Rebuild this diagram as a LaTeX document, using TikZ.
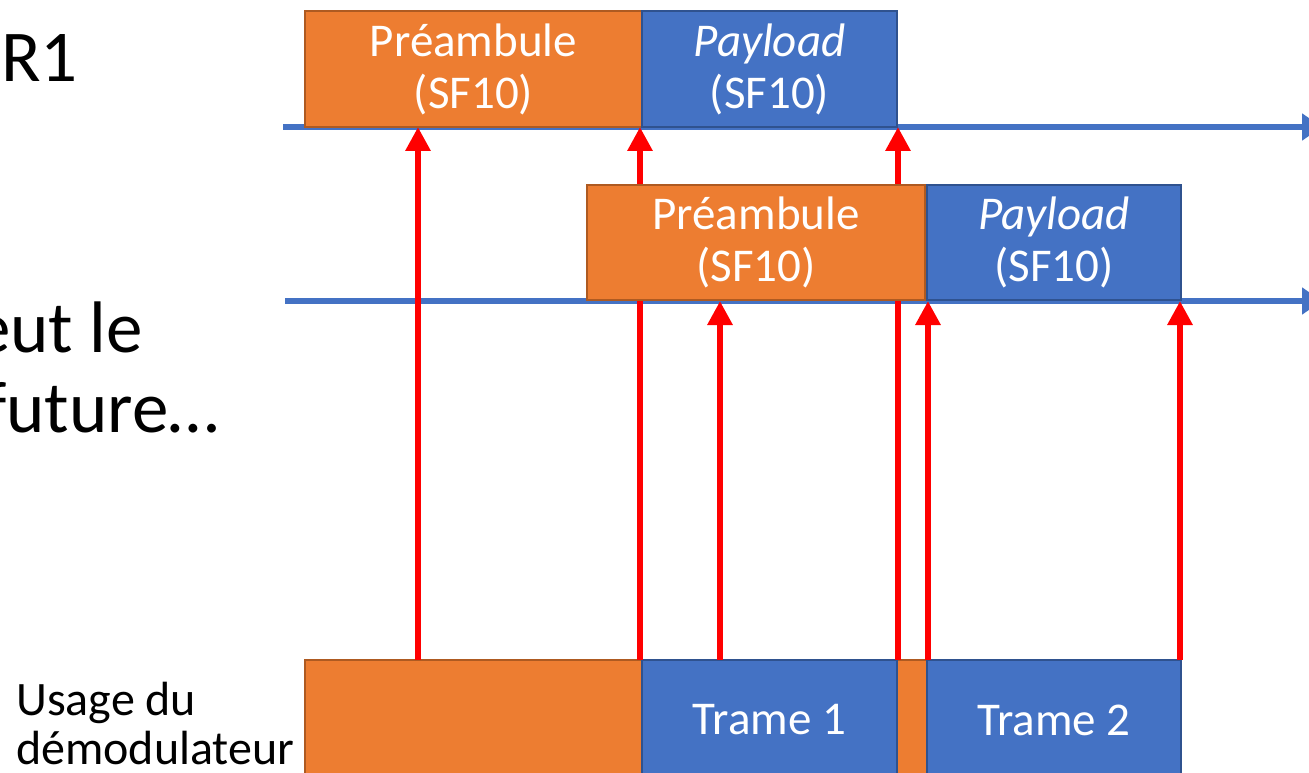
\documentclass[tikz,border=0pt]{standalone}
\usepackage{fontspec}
\setmainfont{Carlito}
\usetikzlibrary{arrows.meta}

\definecolor{lorablue}{HTML}{4472C4}
\definecolor{lorabluedark}{HTML}{2F528F}
\definecolor{loraorange}{HTML}{ED7D31}
\definecolor{loraorangedark}{HTML}{AE5A21}
\definecolor{sigred}{HTML}{FF0000}

\tikzset{
  x=1pt, y=-1pt,
  boxtext/.style={font=\fontsize{47}{52}\selectfont, text=white, align=center, inner sep=0pt},
  prebox/.style={boxtext, draw=loraorangedark, fill=loraorange, line width=2pt, minimum height=#1},
  paybox/.style={boxtext, draw=lorabluedark, fill=lorablue, line width=2pt, minimum height=#1},
  timeaxis/.style={draw=lorablue, line width=5.5pt, -{Triangle[length=20pt,width=26pt]}},
  demod/.style={red, draw=sigred, line width=6pt, -{Triangle[length=24pt,width=24pt]}},
  bigtext/.style={font=\fontsize{73}{80}\selectfont, inner sep=0pt},
  sidetext/.style={font=\fontsize{48}{50}\selectfont, inner sep=0pt, anchor=base west},
}

\begin{document}
\begin{tikzpicture}
\useasboundingbox (0,0) rectangle (1309,773);

% slide text running in from the left
\node[bigtext, anchor=base east] (t1) at (78,82) {R1};
\node[bigtext, anchor=base east] (t2) at (143,352) {eut le};
\node[bigtext, anchor=base west] (t3) at (-16,432) {future…};

% time axes of the two transmissions
\coordinate (ax1s) at (283,127);
\coordinate (ax1e) at (1322,127);
\coordinate (ax2s) at (285,301);
\coordinate (ax2e) at (1322,301);
\draw[timeaxis] (ax1s) -- (ax1e);
\draw[timeaxis] (ax2s) -- (ax2e);

% demodulator occupancy
\node[prebox=130pt, minimum width=622pt] (d0) at (616,725) {};
\node[paybox=120pt, minimum width=255pt] (f1) at (769.5,720) {Trame 1};
\node[paybox=120pt, minimum width=254pt] (f2) at (1054,720) {Trame 2};
\node[sidetext] (u1) at (16,715) {Usage du};
\node[sidetext] (u2) at (16,764) {démodulateur};

% arrow end points
\coordinate (s1) at (418,660);  \coordinate (e1) at (418,127);
\coordinate (s2) at (640,660);  \coordinate (e2) at (640,127);
\coordinate (s3) at (898,660);  \coordinate (e3) at (898,127);
\coordinate (s4) at (720,660);  \coordinate (e4) at (720,301);
\coordinate (s5) at (928,660);  \coordinate (e5) at (928,301);
\coordinate (s6) at (1180,660); \coordinate (e6) at (1180,301);
\foreach \i in {1,...,6} { \draw[demod] (s\i) -- (e\i); }

% first frame
\node[prebox=116pt, minimum width=337pt] (p1) at (473.5,69) {Préambule\\(SF10)};
\node[paybox=116pt, minimum width=255pt] (q1) at (769.5,69) {\textit{Payload}\\(SF10)};

% second frame
\node[prebox=115pt, minimum width=338pt] (p2) at (756,242.5) {Préambule\\(SF10)};
\node[paybox=115pt, minimum width=254pt] (q2) at (1054,242.5) {\textit{Payload}\\(SF10)};
\end{tikzpicture}
\end{document}
